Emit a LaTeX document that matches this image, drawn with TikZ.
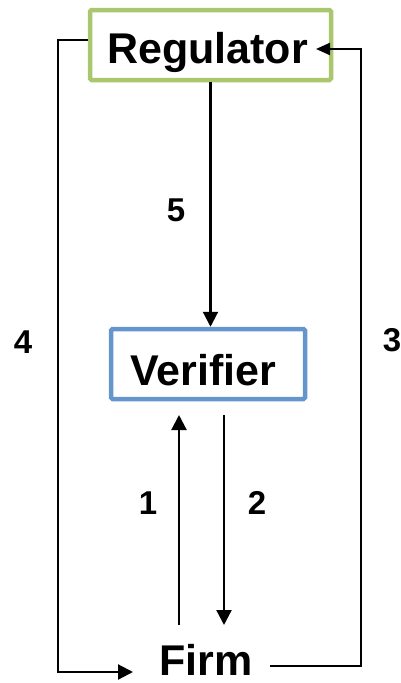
\documentclass[tikz,border=0pt]{standalone}
\usepackage{fontspec}
\setmainfont{Liberation Sans}
\usetikzlibrary{arrows.meta}
\definecolor{reggreen}{RGB}{170,199,110}
\definecolor{verblue}{RGB}{100,150,205}
\begin{document}
\begin{tikzpicture}[x=1pt,y=-1pt,
  big/.style={font=\bfseries\fontsize{43}{50}\selectfont, inner sep=0pt, anchor=base},
  num/.style={font=\bfseries\fontsize{33}{40}\selectfont, inner sep=0pt},
  boxr/.style={draw=reggreen, line width=4.5pt, rounded corners=1.5pt, minimum width=241pt, minimum height=70pt, inner sep=0pt},
  boxv/.style={draw=verblue, line width=4.5pt, rounded corners=1.5pt, minimum width=194pt, minimum height=70pt, inner sep=0pt},
  conn/.style={line width=2.2pt, -{Triangle[length=15pt,width=15pt]}},
  connsmall/.style={line width=2.2pt, -{Triangle[length=14pt,width=12pt]}}]
\useasboundingbox (0,0) rectangle (401,683);
% boxes
\node[boxr] (reg) at (210.5,45) {};
\node[big] (regt) at (207.5,63) {Regulator};
\node[boxv] (ver) at (208,364) {};
\node[big] (vert) at (203.5,385) {Verifier};
\node[big] (firm) at (206,675) {Firm};
% labels
\node[num] (l5) at (176,210.5) {5};
\node[num] (l4) at (23,342.5) {4};
\node[num] (l3) at (392,340.5) {3};
\node[num] (l1) at (148,503) {1};
\node[num] (l2) at (257,503) {2};
% coordinates
\coordinate (c4) at (58,672);
\coordinate (t4) at (133,672);
\coordinate (s3) at (270,666);
\coordinate (c3) at (361,49);
\coordinate (t3) at (316,49);
\coordinate (s1) at (179,625);
\coordinate (t1) at (179,415);
\coordinate (s2) at (224,415);
\coordinate (t2) at (224,625);
% connectors
\draw[conn] (reg.south) -- (reg.south |- ver.north);
\draw[conn] ([yshift=5pt]reg.west) -| (c4) -- (t4);
\draw[connsmall] (s3) -| (c3) -- (t3);
\draw[conn] (s1) -- (t1);
\draw[conn] (s2) -- (t2);
\end{tikzpicture}
\end{document}
